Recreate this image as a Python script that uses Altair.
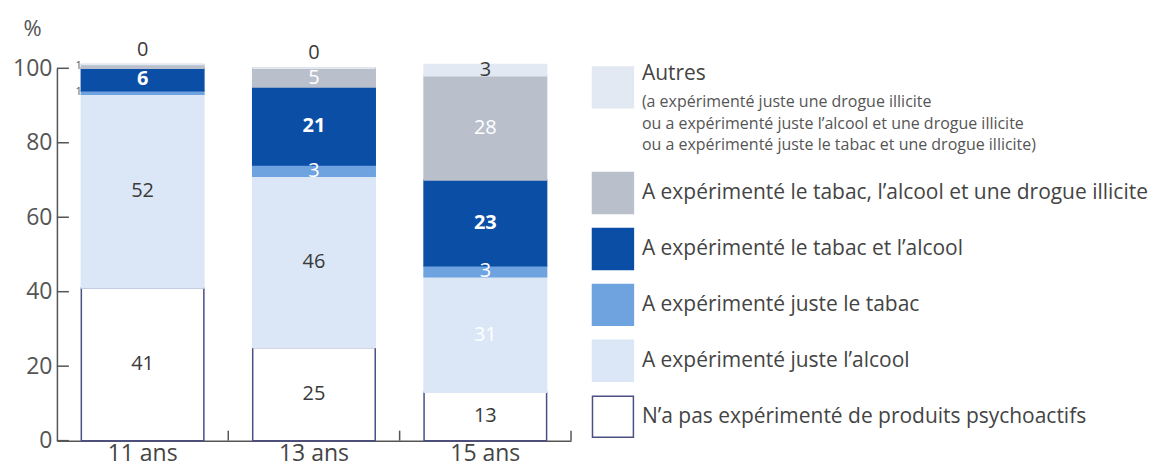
import altair as alt
import pandas as pd

ages = ["11 ans", "13 ans", "15 ans"]

# stacking order, bottom -> top
categories = [
    "N’a pas expérimenté de produits psychoactifs",
    "A expérimenté juste l’alcool",
    "A expérimenté juste le tabac",
    "A expérimenté le tabac et l’alcool",
    "A expérimenté le tabac, l’alcool et une drogue illicite",
    "Autres",
]
autres_details = [
    "(a expérimenté juste une drogue illicite",
    "ou a expérimenté juste l’alcool et une drogue illicite",
    "ou a expérimenté juste le tabac et une drogue illicite)",
]
y_ticks = [0, 20, 40, 60, 80, 100]

v_none = [41, 25, 13]
v_alcool = [52, 46, 31]
v_tabac = [1, 3, 3]
v_tabac_alcool = [6, 21, 23]
v_trois = [1, 5, 28]
v_autres = [0, 0, 3]

fills = ["#ffffff", "#dbe7f6", "#6fa3e0", "#0b4ea6", "#b9c0cc", "#e2e9f2"]
strokes = ["#4b4f86", "#dbe7f6", "#6fa3e0", "#0b4ea6", "#b9c0cc", "#e2e9f2"]

series = [v_none, v_alcool, v_tabac, v_tabac_alcool, v_trois, v_autres]
rows = []
for ai, age in enumerate(ages):
    cum = 0
    for ci, cat in enumerate(categories):
        v = series[ci][ai]
        y0, y1 = cum, cum + v
        cum = y1
        light = ci in (2, 3, 4) or (ci == 1 and age == "15 ans")
        rows.append(dict(age=age, cat=cat, v=v, y0=y0, y1=y1, mid=(y0 + y1) / 2,
                         lab=str(v), col="#ffffff" if light else "#3a3a3a",
                         bold=(ci == 3)))
df = pd.DataFrame(rows)

FONT = "Open Sans"
W, H = 515, 373
AX = "#555555"

xenc = alt.X("age:N", sort=ages, scale=alt.Scale(paddingInner=0, paddingOuter=0),
             axis=alt.Axis(title=None, labelAngle=0, labelFontSize=23, labelColor="#444",
                           labelFont=FONT, ticks=False, domainColor=AX, domainWidth=1.5,
                           labelPadding=2))

base = alt.Chart(df)
bars = base.mark_bar(width=alt.RelativeBandSize(0.715), strokeWidth=1.5).encode(
    x=xenc,
    y=alt.Y("y0:Q", scale=alt.Scale(domain=[0, 100], nice=False),
            axis=alt.Axis(values=y_ticks, ticks=False, tickSize=0, domainColor=AX,
                          domainWidth=1.5, grid=False,
                          labelFontSize=23, labelColor=AX, labelFont=FONT, labelPadding=5,
                          title="%", titleAngle=0, titleFontSize=22, titleFontWeight="normal",
                          titleColor=AX, titleFont=FONT, titleX=-25, titleY=-40,
                          titleAlign="center", titleBaseline="middle")),
    y2="y1:Q",
    fill=alt.Fill("cat:N", scale=alt.Scale(domain=categories, range=fills), legend=None),
    stroke=alt.Stroke("cat:N", scale=alt.Scale(domain=categories, range=strokes), legend=None),
)

xs = alt.X("age:N", sort=ages)
lab_reg = base.transform_filter("datum.v >= 2 && !datum.bold").mark_text(
    fontSize=20, font=FONT, baseline="middle").encode(
    x=xs, y="mid:Q", text="lab:N", color=alt.Color("col:N", scale=None))
lab_bold = base.transform_filter("datum.v >= 2 && datum.bold").mark_text(
    fontSize=20, font=FONT, fontWeight="bold", baseline="middle").encode(
    x=xs, y="mid:Q", text="lab:N", color=alt.Color("col:N", scale=None))
lab_zero = base.transform_filter("datum.v == 0").mark_text(
    fontSize=20, font=FONT, baseline="middle", dy=-15, color="#3a3a3a").encode(
    x=xs, y="y1:Q", text="lab:N")
lab_one = base.transform_filter("datum.v == 1").mark_text(
    fontSize=11, font=FONT, baseline="middle", dx=-64, color=AX).encode(
    x=xs, y="mid:Q", text="lab:N")

xticks = alt.Chart(pd.DataFrame({"age": ages})).mark_rule(color=AX, strokeWidth=1.5).encode(
    x=alt.X("age:N", sort=ages, bandPosition=1), y=alt.value(H), y2=alt.value(H - 10))
yticks = alt.Chart(pd.DataFrame({"t": y_ticks})).mark_rule(color=AX, strokeWidth=1.5).encode(
    y=alt.Y("t:Q"), x=alt.value(0), x2=alt.value(12))

main = alt.layer(bars, lab_reg, lab_bold, lab_zero, lab_one, xticks, yticks).properties(
    width=W, height=H)

# legend: one slot per entry, "Autres" gets extra room for its detail lines
slots = [i + (0.89 if i == len(categories) - 1 else 0) for i in range(len(categories))]
leg = pd.DataFrame(dict(cat=categories, slot=slots))
yl = alt.Y("slot:Q", scale=alt.Scale(domain=[-0.4286, 6.232]), axis=None)
lbase = alt.Chart(leg)
SWX, TX = 31, 60
sw = lbase.mark_square(size=1680, strokeWidth=1.5, opacity=1).encode(
    x=alt.value(SWX), y=yl,
    fill=alt.Fill("cat:N", scale=alt.Scale(domain=categories, range=fills), legend=None),
    stroke=alt.Stroke("cat:N", scale=alt.Scale(domain=categories, range=strokes), legend=None))
txt = lbase.transform_filter("datum.cat != 'Autres'").mark_text(
    align="left", baseline="middle", fontSize=21, font=FONT, color="#444").encode(
    x=alt.value(TX), y=yl, text="cat:N")
txt_autres = lbase.transform_filter("datum.cat == 'Autres'").mark_text(
    align="left", baseline="middle", fontSize=21, font=FONT, color="#444", dy=-13).encode(
    x=alt.value(TX), y=yl, text="cat:N")
txt_det = lbase.transform_filter("datum.cat == 'Autres'").mark_text(
    align="left", baseline="top", fontSize=16, font=FONT, color=AX, dy=7,
    lineHeight=21.5, text=autres_details).encode(x=alt.value(TX), y=yl)
legend = alt.layer(sw, txt, txt_autres, txt_det).properties(width=500, height=H)

chart = alt.hconcat(main, legend, spacing=10).properties(
    padding={"left": 4, "top": 9, "right": 5, "bottom": 0}
).configure_view(stroke=None)

chart.save("out.html", embed_options={"renderer": "svg", "actions": False})
